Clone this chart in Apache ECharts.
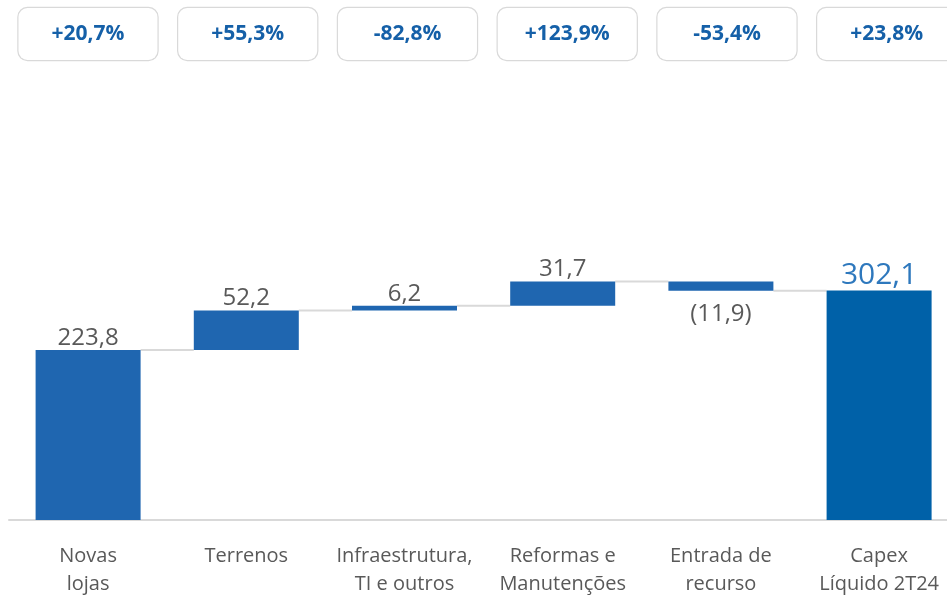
<!DOCTYPE html>
<html>
<head>
<meta charset="utf-8">
<script src="https://cdn.jsdelivr.net/npm/echarts@6/dist/echarts.min.js"></script>
<style>
html,body{margin:0;padding:0;background:#fff;overflow:hidden;}
#chart{width:947px;height:598px;}
</style>
</head>
<body>
<div id="chart"></div>
<script>
const categories = ['Novas\nlojas', 'Terrenos', 'Infraestrutura,\nTI e outros', 'Reformas e\nManutenções', 'Entrada de\nrecurso', 'Capex\nLíquido 2T24'];
const deltas = [223.8, 52.2, 6.2, 31.7, -11.9];
const totalValue = 302.1;
const pctLabels = ['+20,7%', '+55,3%', '-82,8%', '+123,9%', '-53,4%', '+23,8%'];

const FONT = 'Open Sans';
const BAR_W = 105;

// waterfall build
const bases = [];
const visible = [];
const levels = [];
let run = 0;
deltas.forEach(d => {
  if (d >= 0) { bases.push(run); visible.push(d); run += d; }
  else { run += d; bases.push(run); visible.push(-d); }
  levels.push(run);
});
bases.push(0);
visible.push(totalValue);

const fmt = v => v.toFixed(1).replace('.', ',');

const visData = visible.map((v, i) => {
  const isTotal = i === visible.length - 1;
  const neg = !isTotal && deltas[i] < 0;
  return {
    value: v,
    itemStyle: { color: isTotal ? '#0061a8' : '#1f66b0' },
    label: {
      position: neg ? 'bottom' : 'top',
      distance: neg ? 12 : 0,
      formatter: neg ? '(' + fmt(v) + ')' : fmt(v),
      color: isTotal ? '#2e78bd' : '#595959',
      fontSize: isTotal ? 30 : 24
    }
  };
});

const connData = levels.map((l, i) => [i, l]);

const chart = echarts.init(document.getElementById('chart'));
chart.setOption({
  animation: false,
  textStyle: { fontFamily: FONT },
  grid: [
    { left: 9, right: -11.2, top: 216.2, bottom: 78, containLabel: false, outerBoundsMode: 'none' },
    { left: 8.1, right: -19.6, top: 70, height: 1, containLabel: false, outerBoundsMode: 'none' }
  ],
  xAxis: [
    {
      type: 'category', gridIndex: 0, data: categories,
      axisLine: { lineStyle: { color: '#d9d9d9', width: 2 } },
      axisTick: { show: false },
      axisLabel: { interval: 0, color: '#595959', fontSize: 20, lineHeight: 28, margin: 22, fontFamily: FONT }
    },
    {
      type: 'category', gridIndex: 1, data: pctLabels, position: 'top',
      axisLine: { show: false }, axisTick: { show: false },
      axisLabel: {
        interval: 0, margin: 10, color: '#1560a8', fontWeight: 'bold', fontSize: 21, fontFamily: FONT,
        width: 139, height: 52, lineHeight: 52, align: 'center',
        backgroundColor: '#fff', borderColor: '#d9d9d9', borderWidth: 1.2, borderRadius: 9, padding: 0
      }
    }
  ],
  yAxis: [
    { type: 'value', gridIndex: 0, min: 0, max: 400, show: false, splitLine: { show: false } },
    { type: 'value', gridIndex: 1, show: false }
  ],
  series: [
    {
      type: 'custom', xAxisIndex: 0, yAxisIndex: 0, z: 1,
      data: connData,
      renderItem: (params, api) => {
        const i = api.value(0);
        const lvl = api.value(1);
        const p = api.coord([i, lvl]);
        const bw = api.size([1, 0])[0];
        return {
          type: 'line',
          shape: { x1: p[0] + BAR_W / 2, y1: p[1], x2: p[0] + bw - BAR_W / 2, y2: p[1] },
          style: { stroke: '#d9d9d9', lineWidth: 2 }
        };
      }
    },
    {
      type: 'bar', stack: 'w', xAxisIndex: 0, yAxisIndex: 0, barWidth: BAR_W, z: 2,
      itemStyle: { color: 'transparent' },
      data: bases, silent: true
    },
    {
      type: 'bar', stack: 'w', xAxisIndex: 0, yAxisIndex: 0, barWidth: BAR_W, z: 2,
      label: { show: true, fontFamily: FONT },
      data: visData
    }
  ]
});
</script>
</body>
</html>
